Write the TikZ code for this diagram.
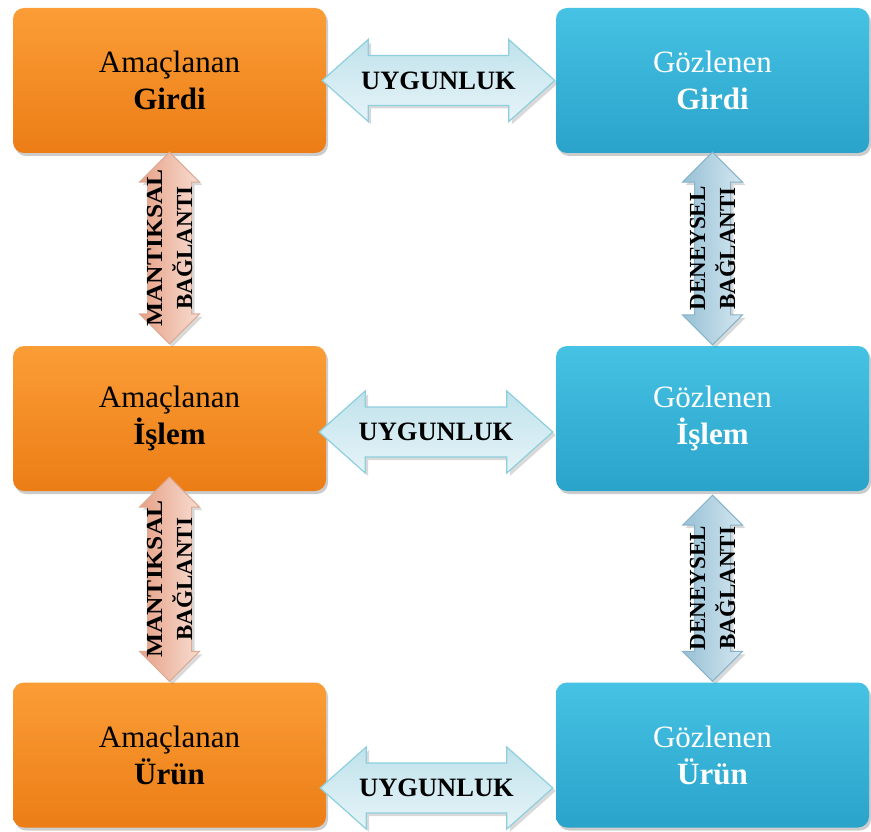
\documentclass[tikz,border=0pt]{standalone}
\usepackage{fontspec}
\setmainfont{Liberation Serif}
\usepackage{xcolor}
\usepackage{tikz}
\usetikzlibrary{calc,shadows}
\definecolor{orangetop}{HTML}{FB9D36}
\definecolor{orangebot}{HTML}{EC7D16}
\definecolor{bluetop}{HTML}{45C2E4}
\definecolor{bluebot}{HTML}{2AA3CA}
\definecolor{uygedge}{HTML}{8ECFDE}
\definecolor{uygtop}{HTML}{C0E2EB}
\definecolor{uygbot}{HTML}{E6F4F8}
\definecolor{mantedge}{HTML}{DDAA93}
\definecolor{mantleft}{HTML}{E6A185}
\definecolor{mantright}{HTML}{F7DDD1}
\definecolor{deneyedge}{HTML}{86B3CA}
\definecolor{deneyleft}{HTML}{97C0D5}
\definecolor{deneyright}{HTML}{D4E7F0}
\tikzset{
  kutu/.style={rectangle, rounded corners=11pt, minimum width=313pt, minimum height=145pt,
    align=center, font=\fontsize{31}{37}\selectfont,
    drop shadow={shadow xshift=2pt, shadow yshift=-3pt, opacity=0.4}},
  amac/.style={kutu, top color=orangetop, bottom color=orangebot, text=black},
  gozlem/.style={kutu, top color=bluetop, bottom color=bluebot, text=white},
  uyg/.style={draw=uygedge, line width=1.2pt, line join=miter, top color=uygtop, bottom color=uygbot,
    drop shadow={shadow xshift=3pt, shadow yshift=-3pt, opacity=0.3}},
  mant/.style={draw=mantedge, line width=1pt, left color=mantleft, right color=mantright,
    drop shadow={shadow xshift=3pt, shadow yshift=-3pt, opacity=0.3}},
  deney/.style={draw=deneyedge, line width=1pt, left color=deneyleft, right color=deneyright,
    drop shadow={shadow xshift=3pt, shadow yshift=-3pt, opacity=0.3}},
  lab/.style={text=black, font=\bfseries\fontsize{26.5}{30}\selectfont},
  vlab/.style={text=black, rotate=90, align=center, font=\bfseries\fontsize{23}{30}\selectfont},
}

\begin{document}
\begin{tikzpicture}[x=1pt, y=-1pt]
  \useasboundingbox (0,0) rectangle (871,832);

  % amaclanan kutulari
  \node[amac] (A1) at (169.5,80.5) {Amaçlanan\\\textbf{Girdi}};
  \node[amac] (A2) at (169.5,418.5) {Amaçlanan\\\textbf{İşlem}};
  \node[amac] (A3) at (169.5,755) {Amaçlanan\\\textbf{Ürün}};

  % gozlenen kutulari
  \node[gozlem] (G1) at (712.5,80.5) {Gözlenen\\\textbf{Girdi}};
  \node[gozlem] (G2) at (712.5,418.5) {Gözlenen\\\textbf{İşlem}};
  \node[gozlem] (G3) at (712.5,755) {Gözlenen\\\textbf{Ürün}};

  % uygunluk oklari
  \foreach \a/\g/\dy/\da/\dg in {A1/G1/0/-4/-1, A2/G2/13.5/-7/-3, A3/G3/33/-6/-3} {
    \coordinate (L\a) at ($(\a.east)+(\da,\dy)$);
    \coordinate (R\a) at ($(\g.west)+(\dg,\dy)$);
    \draw[uyg] (L\a) -- ++(46,-41) -- ++(0,16) -- ($(R\a)+(-46,-25)$) -- ++(0,-16)
      -- (R\a) -- ++(-46,41) -- ++(0,-16) -- ($(L\a)+(46,25)$) -- ++(0,16) -- cycle;
    \node[lab] (U\a) at ($(L\a)!0.5!(R\a)$) {UYGUNLUK};
  }

  % baglanti oklari
  \foreach \u/\d/\du/\dd/\w/\st/\txt in {
      A1/A2/-1/-2/22/mant/\scalebox{1.11}[1]{MANTIKSAL},
      A2/A3/-14/-1/22/mant/\scalebox{1.11}[1]{MANTIKSAL},
      G1/G2/-1/-1/18/deney/DENEYSEL, G2/G3/4/-1/18/deney/DENEYSEL} {
    \coordinate (T\u) at ($(\u.south)+(0,\du)$);
    \coordinate (B\u) at ($(\d.north)+(0,\dd)$);
    \draw[\st] (T\u) -- ++(30,30) -- ++({\w-30},0) -- ($(B\u)+(\w,-30)$) -- ++({30-\w},0)
      -- (B\u) -- ++(-30,-30) -- ++({30-\w},0) -- ($(T\u)+(-\w,30)$) -- ++({\w-30},0) -- cycle;
    \node[vlab] (V\u) at ($(T\u)!0.5!(B\u)$) {\txt\\BAĞLANTI};
  }
\end{tikzpicture}
\end{document}
